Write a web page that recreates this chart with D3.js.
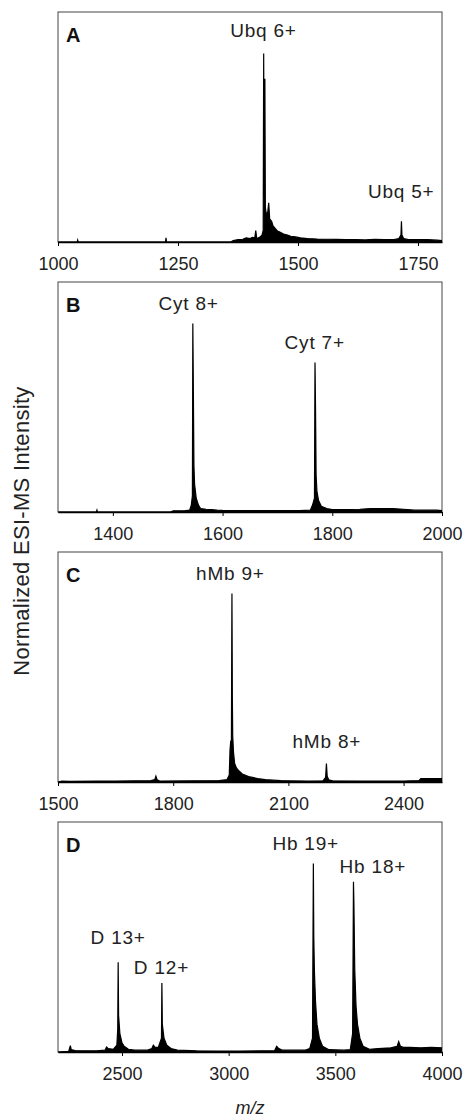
<!DOCTYPE html>
<html>
<head>
<meta charset="utf-8">
<script src="https://cdn.jsdelivr.net/npm/d3@7"></script>
<style>
  body { margin: 0; background: #fff; }
  svg { display: block; font-family: "Liberation Sans", Arial, sans-serif; }
</style>
</head>
<body>
<div id="chart"></div>
<script>
// spectra: [m/z, normalized intensity in % of panel height]
const specA = [[1000,0],[1040,0],[1041,0.8],[1042,0],[1224,0],[1225,1.8],[1226,0],[1360,0],[1365,0.6],[1375,1],
  [1385,1.2],[1392,1.8],[1400,1.5],[1405,2],[1410,1.8],[1412,5],[1414,1.5],[1420,2],[1425,3],[1427.5,5],
  [1428.5,82],[1429.5,20],[1431,71],[1432,15],[1434,12],[1437,13],[1439,17],[1441,10],[1445,9],[1448,7],
  [1452,6],[1456,5],[1460,4.5],[1465,4],[1470,3.5],[1478,3],[1485,2.5],[1495,2.2],[1505,1.8],[1520,1.5],
  [1540,1.3],[1560,1.2],[1580,1.1],[1600,1],[1620,1],[1640,0.9],[1660,1.1],[1680,1],[1700,1],[1710,1.5],
  [1714.5,3],[1715.5,9],[1716.5,3],[1720,1.5],[1730,1],[1750,1],[1770,1],[1790,0.8],[1800,0.6]]
const specB = [[1300,0],[1370,0],[1371,0.8],[1372,0],[1505,0],[1510,0.5],[1530,0.5],[1540,0.8],[1543,3],[1545,7],
  [1545.8,82],[1546.8,51],[1547.8,20],[1549,12],[1552,6],[1556,3],[1560,1.5],[1570,1.2],[1580,1],[1590,0.8],
  [1600,0.7],[1650,0.6],[1700,0.6],[1740,0.6],[1760,0.8],[1764,3],[1767.5,6],[1768.5,65],[1769.5,44],[1770.5,16],
  [1772,9],[1775,5],[1780,2.5],[1790,1.5],[1800,1],[1820,1],[1850,1.2],[1870,1.5],[1890,1.5],[1910,1.5],
  [1930,1.2],[1950,0.8],[1970,0.8],[1990,0.8],[2000,0.6]]
const specC = [[1500,0],[1510,0.4],[1530,0.3],[1600,0.4],[1650,0.4],[1700,0.5],[1740,0.5],[1752,1],[1755,2.5],[1758,1],
  [1765,0.4],[1850,0.5],[1920,0.6],[1940,1],[1946,3],[1948,14],[1950,18],[1951.5,15],[1953,82],[1954,37],
  [1955,20],[1957,13],[1960,8],[1965,6],[1970,5],[1980,3.5],[1990,2.8],[2000,2.2],[2020,1.5],[2040,1],
  [2060,0.8],[2080,0.6],[2100,0.5],[2150,0.4],[2190,0.5],[2197,2],[2199,8],[2201,2.5],[2205,1],[2215,0.5],
  [2300,0.4],[2400,0.4],[2440,0.6],[2445,1.5],[2470,1.5],[2500,1.5]]
const specD = [[2200,0],[2250,0.3],[2258,2.8],[2262,1],[2280,0.6],[2320,0.5],[2380,0.5],[2420,0.8],[2428,2.2],[2435,1.5],
  [2460,1.2],[2476,3],[2480,10],[2482,39],[2484,16],[2490,8],[2500,4],[2510,2.5],[2530,1.2],[2560,0.8],
  [2620,0.8],[2640,1.5],[2647,3],[2655,2],[2670,2],[2685,6],[2687,30],[2689,12],[2697,6],[2710,3],
  [2730,1.5],[2760,0.8],[2850,0.5],[2950,0.4],[3050,0.4],[3150,0.5],[3215,0.5],[3225,2.5],[3235,1.5],[3250,0.8],
  [3300,0.8],[3360,0.8],[3380,1.5],[3393,6],[3397,82],[3399,50],[3402,35],[3407,22],[3414,12],[3425,6],
  [3440,2.5],[3470,1],[3540,0.8],[3570,1],[3581,8],[3585,74],[3587,65],[3591,36],[3597,20],[3604,12],
  [3615,6],[3630,2.5],[3660,1.2],[3700,1.5],[3760,1.8],[3790,2.5],[3797,4.5],[3805,2.5],[3820,2],[3850,2],
  [3900,1.8],[3950,2],[4000,1.8]]

const letters = ["A", "B", "C", "D"]
const domains = [[1000, 1800], [1300, 2000], [1500, 2500], [2200, 4000]]
const tickVals = [[1000, 1250, 1500, 1750], [1400, 1600, 1800, 2000], [1500, 1800, 2100, 2400], [2500, 3000, 3500, 4000]]
// peak labels: [text, m/z, intensity level of baseline]
const labelsA = [["Ubq 6+", 1428, 89], ["Ubq 5+", 1715, 19]]
const labelsB = [["Cyt 8+", 1538, 88], ["Cyt 7+", 1768, 71]]
const labelsC = [["hMb 9+", 1949, 88], ["hMb 8+", 2200, 15]]
const labelsD = [["D 13+", 2482, 47], ["D 12+", 2685, 34], ["Hb 19+", 3361, 88], ["Hb 18+", 3676, 78]]

const spectra = [specA, specB, specC, specD]
const labels = [labelsA, labelsB, labelsC, labelsD]

const width = 465
const height = 1118
const left = 58, right = 442
const panelH = 230
const tops = [12, 282, 552, 822]

const svg = d3.select("#chart").append("svg")
  .attr("width", width)
  .attr("height", height)

const y = d3.scaleLinear().domain([0, 100]).range([panelH, 0])

for (let p = 0; p < 4; p++) {
  const g = svg.append("g").attr("transform", `translate(0, ${tops[p]})`)
  const x = d3.scaleLinear().domain(domains[p]).range([left, right])

  // frame
  g.append("rect")
    .attr("x", left).attr("y", 0)
    .attr("width", right - left).attr("height", panelH)
    .attr("fill", "none").attr("stroke", "#444").attr("stroke-width", 1)

  const area = d3.area().x(d => x(d[0])).y0(y(0)).y1(d => y(d[1]))
  const line = d3.line().x(d => x(d[0])).y(d => y(d[1]))

  g.append("path").datum(spectra[p])
    .attr("d", area).attr("fill", "#000")
  g.append("path").datum(spectra[p])
    .attr("d", line).attr("fill", "none").attr("stroke", "#000").attr("stroke-width", 1.2)

  const axis = d3.axisBottom(x).tickValues(tickVals[p]).tickFormat(d3.format("d"))
    .tickSize(4).tickPadding(11).tickSizeOuter(0)
  const ax = g.append("g").attr("transform", `translate(0, ${panelH})`).call(axis)
  ax.select(".domain").attr("stroke", "#000").attr("stroke-width", 1.5)
  ax.selectAll(".tick line").attr("stroke", "#000")
  ax.selectAll(".tick text")
    .attr("font-family", "Liberation Sans, Arial, sans-serif")
    .attr("font-size", 18).attr("fill", "#222")

  g.append("text")
    .attr("x", left + 8).attr("y", 30)
    .attr("font-size", 20).attr("font-weight", "bold").attr("fill", "#111")
    .text(letters[p])

  g.selectAll(".peak").data(labels[p]).enter().append("text")
    .attr("class", "peak")
    .attr("x", d => x(d[1])).attr("y", d => y(d[2]))
    .attr("text-anchor", "middle")
    .attr("font-size", 19).attr("letter-spacing", 0.8).attr("fill", "#222")
    .text(d => d[0])
}

// y axis title
svg.append("text")
  .attr("transform", "translate(29, 531) rotate(-90)")
  .attr("text-anchor", "middle")
  .attr("font-size", 22).attr("letter-spacing", 0.3).attr("fill", "#222")
  .text("Normalized ESI-MS Intensity")

svg.append("text")
  .attr("x", 250).attr("y", 1114)
  .attr("text-anchor", "middle")
  .attr("font-size", 18).attr("font-style", "italic").attr("fill", "#222")
  .text("m/z")
</script>
</body>
</html>
